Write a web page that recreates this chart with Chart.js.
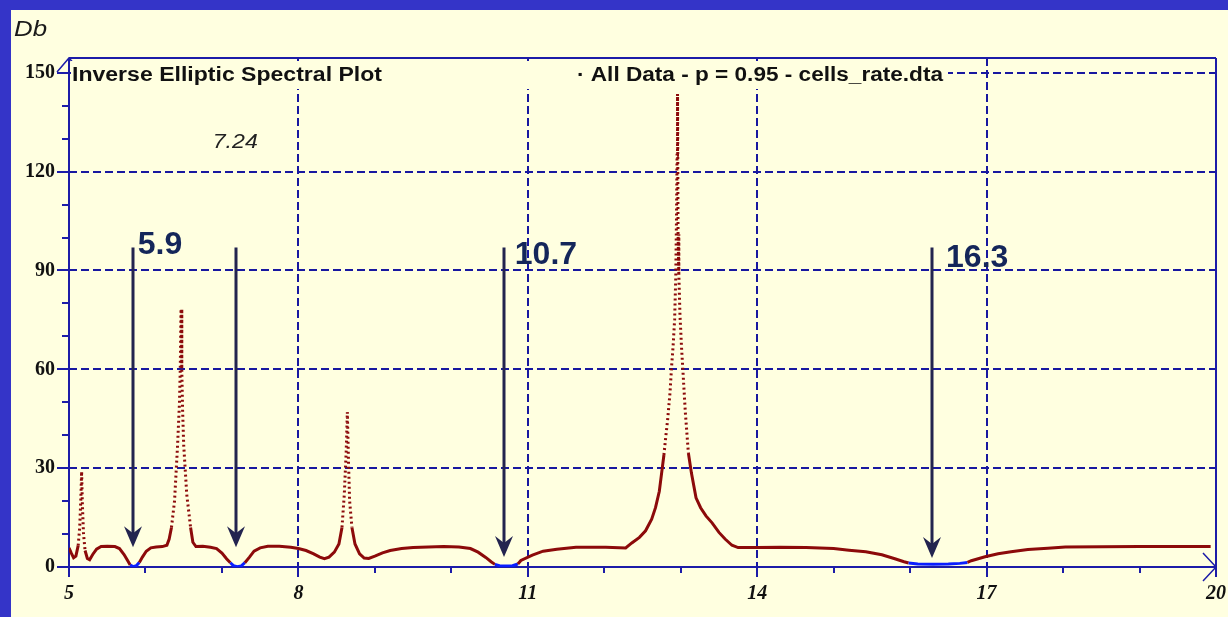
<!DOCTYPE html>
<html><head><meta charset="utf-8">
<script src="https://cdn.jsdelivr.net/npm/chart.js@4.4.1/dist/chart.umd.min.js"></script>
<style>
html,body{margin:0;padding:0;background:#3434c8;width:1228px;height:617px;overflow:hidden}
#panel{position:absolute;left:11px;top:10px;width:1217px;height:607px;background:#ffffe0}
canvas{display:block}
</style></head><body>
<div id="panel"><canvas id="c" width="1217" height="607"></canvas></div>
<script>
// ---- data ----
const freq = [5.00,5.03,5.06,5.09,5.12,5.14,5.155,5.165,5.175,5.19,5.21,5.24,5.27,5.31,5.36,5.42,5.50,5.60,5.66,5.72,5.77,5.80,5.84,5.88,5.92,5.96,6.01,6.07,6.14,6.22,6.28,6.31,6.34,6.38,6.42,6.445,6.455,6.465,6.475,6.485,6.50,6.54,6.59,6.62,6.66,6.75,6.85,6.93,7.00,7.06,7.11,7.15,7.20,7.25,7.30,7.36,7.42,7.50,7.60,7.75,7.90,8.00,8.10,8.20,8.28,8.34,8.40,8.47,8.53,8.57,8.60,8.625,8.64,8.655,8.67,8.70,8.74,8.80,8.86,8.92,9.00,9.10,9.20,9.35,9.50,9.70,9.90,10.10,10.25,10.35,10.45,10.52,10.57,10.63,10.70,10.80,10.87,10.91,11.06,11.20,11.38,11.63,12.02,12.28,12.36,12.46,12.54,12.62,12.67,12.72,12.75,12.78,12.80,12.83,12.86,12.88,12.90,12.92,12.935,12.945,12.952,12.958,12.965,12.975,12.99,13.01,13.03,13.06,13.10,13.14,13.20,13.26,13.33,13.41,13.50,13.58,13.67,13.75,14.00,14.30,14.64,15.00,15.20,15.42,15.63,15.80,15.92,15.98,16.10,16.30,16.50,16.65,16.75,16.80,16.98,17.15,17.32,17.54,17.80,18.03,19.00,19.93];
const db = [5.8,4.2,2.8,3.3,6.5,12,21,29,19,10,5,2.6,2.2,3.8,5.4,6.2,6.3,6.2,5.6,3.8,1.8,0.6,0.1,0.4,1.4,3.0,4.8,5.8,6.1,6.2,6.6,8.5,12,20,37,50,60,78.3,60,48,37,22,12,7.5,6.2,6.3,6.0,5.6,4.2,2.5,1.3,0.4,0.1,0.3,1.3,3.0,4.8,5.8,6.3,6.3,6.0,5.6,5.0,4.0,3.0,2.5,3.0,4.5,7.0,12,22,35,47,32,20,12,7.0,4.0,2.7,2.6,3.3,4.3,5.0,5.6,5.9,6.1,6.2,6.1,5.6,4.5,2.9,1.6,0.8,0.4,0.3,0.4,0.9,2.0,3.6,4.8,5.4,6.0,6.0,5.8,7.3,9.0,11,14.5,18,23,28.5,34,38.6,45,53,60.7,67,75,88,107,125,143.6,101,89,76.5,66.8,59,47,34.6,28.5,21,18,15.5,13.4,10.5,8.5,6.6,5.9,5.9,6.0,5.9,5.6,5.1,4.6,3.7,2.5,1.6,1.2,0.9,0.8,0.9,1.1,1.4,1.9,3.1,4.0,4.6,5.3,5.7,6.1,6.2,6.2];
const xTickLabels = [5, 8, 11, 14, 17, 20];
const yTickLabels = [0, 30, 60, 90, 120, 150];
const arrowFreq = [5.84, 7.19, 10.69, 16.28];
const arrowTopDb = [97, 97, 97, 97];
const arrowTipDb = [6, 6, 3, 2.7];
const minimaLabels = ['5.9', '10.7', '16.3'];
const minimaLabelFreq = [5.9, 10.83, 16.47];
const minimaLabelDb = [97.8, 94.7, 93.8];
const noteText = '7.24';
const noteFreq = 6.88;
const noteDb = 129;
const titleLeft = 'Inverse Elliptic Spectral Plot';
const titleRight = '· All Data - p = 0.95 - cells_rate.dta';
const yAxisTitle = 'Db';

// ---- styles ----
const RED = '#8c0a0a', BLUE = '#0a1eff', GRID = '#1818a0', AXIS = '#1c1ca8', BG = '#ffffe0', NAVY = '#23244f', LBL = '#14265a';

function fitText(ctx, text, x, y, font, color, w) {
  ctx.save();
  ctx.font = font;
  const m = ctx.measureText(text).width;
  ctx.translate(x, y);
  if (w) ctx.scale(w / m, 1);
  ctx.fillStyle = color;
  ctx.textBaseline = 'middle';
  ctx.textAlign = 'left';
  ctx.fillText(text, 0, 0);
  ctx.restore();
}

const frame = {
  id: 'frame',
  beforeDatasetsDraw(chart) {
    const {ctx, chartArea: a, scales: {x, y}} = chart;
    ctx.save();
    ctx.strokeStyle = AXIS; ctx.lineWidth = 2; ctx.setLineDash([]);
    ctx.beginPath();
    ctx.moveTo(a.left, a.bottom); ctx.lineTo(a.left, a.top);
    ctx.moveTo(a.left, a.bottom); ctx.lineTo(a.right, a.bottom);
    ctx.moveTo(a.left, a.top); ctx.lineTo(a.right, a.top);
    ctx.moveTo(a.right, a.top); ctx.lineTo(a.right, a.bottom);
    y.ticks.forEach(t => {
      const py = Math.round(y.getPixelForValue(t.value));
      const L = yTickLabels.includes(t.value) ? 12 : 7;
      ctx.moveTo(a.left - L, py); ctx.lineTo(a.left, py);
    });
    x.ticks.forEach(t => {
      const px = Math.round(x.getPixelForValue(t.value));
      const L = xTickLabels.includes(t.value) ? 10 : 6;
      ctx.moveTo(px, a.bottom); ctx.lineTo(px, a.bottom + L);
    });
    ctx.stroke();
    ctx.lineWidth = 1.5;
    ctx.beginPath();
    ctx.moveTo(a.left - 12, a.top + 14); ctx.lineTo(a.left, a.top); ctx.lineTo(a.left + 12, a.top + 14);
    ctx.moveTo(a.right - 13, a.bottom - 14); ctx.lineTo(a.right, a.bottom); ctx.lineTo(a.right - 13, a.bottom + 14);
    ctx.stroke();
    ctx.restore();
  },
  afterDatasetsDraw(chart) {
    const {ctx, chartArea: a, scales: {x, y}} = chart;
    ctx.save();
    arrowFreq.forEach((f, i) => {
      const px = Math.round(x.getPixelForValue(f));
      const top = y.getPixelForValue(arrowTopDb[i]);
      const tip = y.getPixelForValue(arrowTipDb[i]);
      ctx.strokeStyle = NAVY; ctx.lineWidth = 3;
      ctx.beginPath(); ctx.moveTo(px, top); ctx.lineTo(px, tip - 12); ctx.stroke();
      ctx.fillStyle = NAVY;
      ctx.beginPath();
      ctx.moveTo(px, tip); ctx.lineTo(px - 9, tip - 21); ctx.lineTo(px, tip - 14); ctx.lineTo(px + 9, tip - 21);
      ctx.closePath(); ctx.fill();
    });
    minimaLabels.forEach((t, i) => {
      fitText(ctx, t, x.getPixelForValue(minimaLabelFreq[i]), y.getPixelForValue(minimaLabelDb[i]),
        'bold 32px "Liberation Sans", Arial, sans-serif', LBL);
    });
    fitText(ctx, noteText, x.getPixelForValue(noteFreq), y.getPixelForValue(noteDb),
      'italic 21px "Liberation Sans", Arial, sans-serif', '#222', 45);
    ctx.fillStyle = BG;
    ctx.fillRect(a.left + 2, a.top + 3, 877, 28);
    fitText(ctx, titleLeft, a.left + 3, a.top + 17, 'bold 20px "Liberation Sans", Arial, sans-serif', '#111', 310);
    fitText(ctx, titleRight, a.left + 508, a.top + 17, 'bold 20px "Liberation Sans", Arial, sans-serif', '#111', 366);
    ctx.restore();
  },
  afterDraw(chart) {
    const ctx = chart.ctx;
    fitText(ctx, yAxisTitle, 3, 20, 'italic 22px "Liberation Sans", Arial, sans-serif', '#1a1a1a', 33);
  }
};

const pts = freq.map((f, i) => ({x: f, y: db[i]}));
const tickFontY = {family: '"Liberation Serif", serif', size: 20, weight: 'bold'};
const tickFontX = {family: '"Liberation Serif", serif', size: 20, weight: 'bold', style: 'italic'};

new Chart(document.getElementById('c'), {
  type: 'line',
  data: {datasets: [{
    data: pts, borderColor: RED, borderWidth: 3, pointRadius: 0, tension: 0, borderCapStyle: 'butt',
    segment: {
      borderColor: c => (c.p0.parsed.y < 1.5 && c.p1.parsed.y < 1.5) ? BLUE : RED,
      borderDash: c => {
        const dx = Math.abs(c.p1.x - c.p0.x), dy = Math.abs(c.p1.y - c.p0.y);
        return (dy > 8 * dx && dy > 10) ? [2, 3] : [];
      }
    }
  }]},
  options: {
    responsive: false, animation: false, events: [],
    plugins: {legend: {display: false}, tooltip: {enabled: false}},
    layout: {padding: {left: 0, top: 48, right: 12, bottom: 0}},
    scales: {
      x: {
        type: 'linear', min: 5, max: 20,
        afterFit: s => { s.height = 50; s.paddingLeft = 0; s.paddingRight = 0; },
        afterBuildTicks: s => { const t = []; for (let v = 5; v <= 20; v++) t.push({value: v}); s.ticks = t; },
        ticks: {autoSkip: false, maxRotation: 0, padding: 15, color: '#111', font: tickFontX,
          callback: v => xTickLabels.includes(v) ? String(v) : ''},
        grid: {drawTicks: false, lineWidth: 2,
          color: c => { const v = c.tick && c.tick.value; return (v > 5 && v < 20 && xTickLabels.includes(v)) ? GRID : 'rgba(0,0,0,0)'; }},
        border: {display: false, dash: [8, 4]}
      },
      y: {
        min: 0, max: 154.5,
        afterFit: s => { s.width = 58; s.paddingTop = 0; s.paddingBottom = 0; },
        afterBuildTicks: s => { const t = []; for (let v = 0; v <= 150; v += 10) t.push({value: v}); s.ticks = t; },
        ticks: {autoSkip: false, padding: 14, color: '#111', font: tickFontY,
          callback: v => yTickLabels.includes(v) ? String(v) : ''},
        grid: {drawTicks: false, lineWidth: 2,
          color: c => { const v = c.tick && c.tick.value; return (v > 0 && yTickLabels.includes(v)) ? GRID : 'rgba(0,0,0,0)'; }},
        border: {display: false, dash: [8, 4]}
      }
    }
  },
  plugins: [frame]
});
</script>
</body></html>
